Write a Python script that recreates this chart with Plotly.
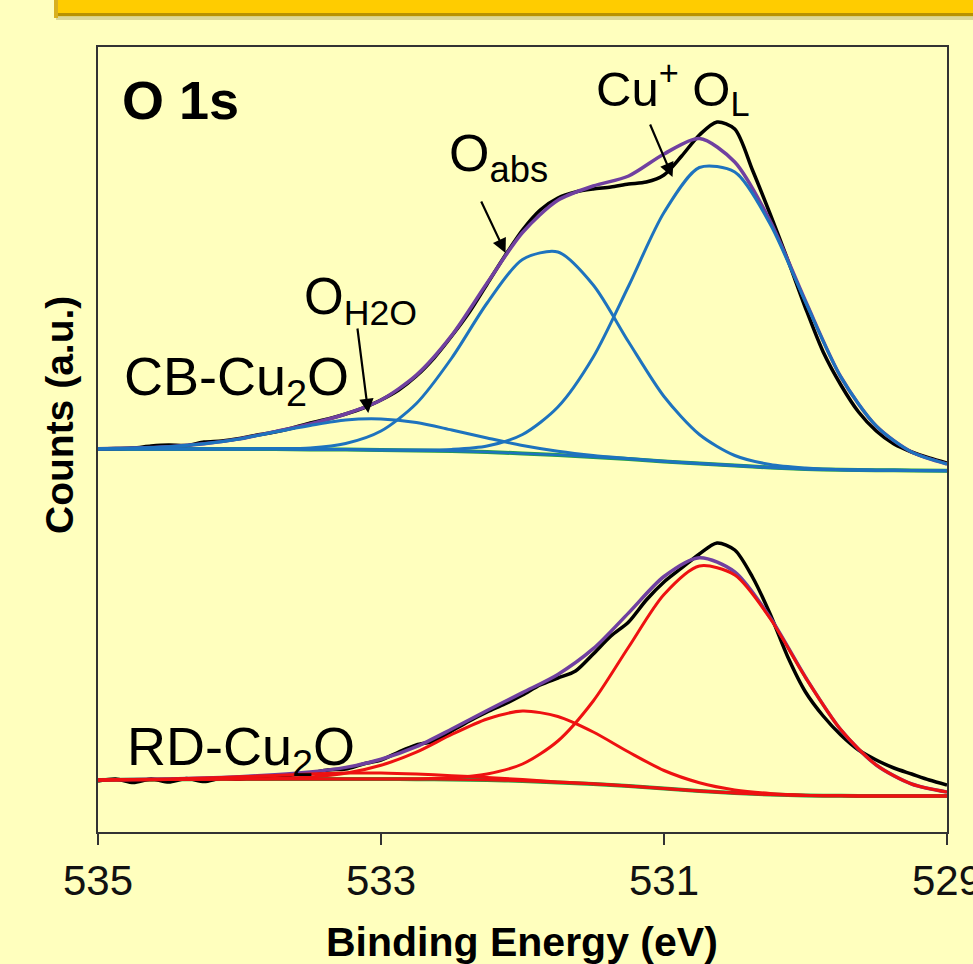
import plotly.graph_objects as go

# ---------------- data ----------------
# Binding energy grid of the fitted curves (eV)
energy = [535.0, 534.75, 534.5, 534.25, 534.0, 533.75, 533.5, 533.25, 533.0,
          532.75, 532.5, 532.25, 532.0, 531.75, 531.5, 531.25, 531.0,
          530.75, 530.5, 530.25, 530.0, 529.75, 529.5, 529.25, 529.0]

# Binding energy grid of the raw spectra (eV)
energy_raw = [535.0, 534.875, 534.75, 534.625, 534.5, 534.375, 534.25, 534.125,
              534.0, 533.875, 533.75, 533.625, 533.5, 533.375, 533.25, 533.125,
              533.0, 532.875, 532.75, 532.625, 532.5, 532.375, 532.25, 532.125,
              532.0, 531.875, 531.75, 531.625, 531.5, 531.375, 531.25, 531.125,
              531.0, 530.875, 530.75, 530.625, 530.5, 530.375, 530.25, 530.125,
              530.0, 529.875, 529.75, 529.625, 529.5, 529.375, 529.25, 529.125,
              529.0]

# ---- CB-Cu2O (upper spectrum), counts in a.u. ----
cb_raw = [383, 383.5, 384, 386, 387, 386.5, 390, 391, 393.5, 397, 400, 404, 409,
          413, 418, 424, 432, 442, 456, 474, 496, 520, 548, 576, 602, 622, 634,
          640, 643, 645, 648, 650, 657, 676, 697, 710, 703, 662, 618, 572, 524,
          480, 447, 420, 401, 388, 380, 374, 369]
cb_background = [383, 383, 383, 383, 383, 383, 382.5, 382.5, 382, 381.5, 381, 380,
                 378.5, 377, 375, 373, 370.5, 368.5, 366.5, 364.5, 363, 362.3,
                 361.8, 361.5, 361.3]
cb_lattice_O = [383, 383, 383, 383, 383, 383, 382.5, 382.5, 382, 381.9, 382.6, 386,
                397.5, 425, 475, 546, 619.5, 664.5, 660, 608, 530, 455,
                406, 380, 368]
cb_adsorbed_O = [383, 383, 383, 383, 383.1, 383.4, 384.1, 388.5, 401, 428.5, 474,
                 529, 572.5, 580, 547, 490, 435.5, 397.5, 376.5, 367.5, 364,
                 362.3, 361.8, 361.5, 361.3]
cb_water_O = [383.3, 383.9, 385.3, 388.2, 393, 400, 406.5, 412, 413, 409.5, 402,
              394, 386.5, 380.8, 376.6, 373.6, 370.7, 368.5, 366.5, 364.5, 363,
              362.3, 361.8, 361.5, 361.3]
cb_envelope = [383.3, 383.9, 385.3, 388.2, 393.1, 400.4, 408.1, 418, 432, 456.9,
               496.6, 549, 599.5, 631.8, 646, 656, 678, 693.5, 670, 611, 531,
               455, 406, 380, 368]

# ---- RD-Cu2O (lower spectrum), counts in a.u. ----
rd_raw = [51, 53, 49.5, 53, 50, 53.5, 50.5, 54, 53, 55, 56, 57, 59, 62, 63, 68,
          72, 80, 87, 91, 101, 111, 120, 128, 137, 147, 154, 161, 178, 196, 210,
          232, 250, 264, 278, 289, 282, 255, 218, 175, 140, 116, 97, 82, 72, 64,
          58, 52, 47]
rd_background = [52, 52.2, 52.5, 52.8, 53, 53, 53, 53, 53, 52.8, 52.5, 52, 51,
                 49.5, 48, 46, 43.5, 41, 39, 37.5, 36.5, 36.2, 36, 36, 36]
rd_lattice_O = [52, 52.2, 52.5, 52.8, 53, 53, 53, 53, 53, 53.2, 54.2, 58, 68, 91,
                131, 185, 237.5, 266, 257, 213.5, 154.5, 102.2, 67, 48, 40]
rd_adsorbed_O = [52, 52.2, 52.5, 52.8, 53.1, 53.6, 55, 58.7, 66.7, 79.8, 97.5,
                 113, 121, 115.5, 100, 80, 61.5, 49.3, 42.1, 38.5, 36.8, 36.2,
                 36, 36, 36]
rd_water_O = [52.1, 52.4, 53, 54, 55.2, 56.6, 57.9, 58.9, 59, 58, 56.3, 54.5,
              52.4, 50.1, 48.3, 46.1, 43.5, 41, 39, 37.5, 36.5, 36.2, 36, 36, 36]
rd_envelope = [52.1, 52.4, 53, 54, 55.3, 57.2, 59.9, 64.6, 72.7, 85.4, 103,
               121.5, 139.4, 157.6, 183.3, 219.1, 255.5, 274.3, 260.1, 214.5,
               154.8, 102.2, 67, 48, 40]

x_ticks = [535, 533, 531, 529]

# ---------------- style ----------------
BG = "#FFFFBE"
FRAME = "#333333"
C_RAW = "#000000"
C_ENV = "#7040A0"
C_BLUE = "#1E73BE"
C_RED = "#EE1111"
C_GREEN = "#22A044"
FONT = "Liberation Sans, Arial, sans-serif"

W, H = 973, 964
L, R, T, B = 98, 947, 47, 832   # plot area in pixels


def px(x):
    return (x - L) / (R - L)


def py(y):
    return (B - y) / (B - T)


fig = go.Figure()


def line(x, y, color, width):
    fig.add_trace(go.Scatter(x=x, y=y, mode="lines",
                             line=dict(color=color, width=width, shape="spline",
                                       smoothing=0.8),
                             hoverinfo="skip"))


# upper spectrum
line(energy, cb_background, C_GREEN, 4)
line(energy, cb_background, C_BLUE, 2.5)
line(energy_raw, cb_raw, C_RAW, 3.5)
line(energy, cb_envelope, C_ENV, 3.5)
line(energy, cb_water_O, C_BLUE, 3)
line(energy, cb_adsorbed_O, C_BLUE, 3)
line(energy, cb_lattice_O, C_BLUE, 3)

# lower spectrum
line(energy, rd_background, C_GREEN, 4)
line(energy_raw, rd_raw, C_RAW, 3.5)
line(energy, rd_envelope, C_ENV, 3.5)
line(energy, rd_water_O, C_RED, 3)
line(energy, rd_adsorbed_O, C_RED, 3)
line(energy, rd_lattice_O, C_RED, 3)
line(energy, rd_background, C_RED, 2.5)

annotations = []


def label(text, x, y, size, bold=False):
    annotations.append(dict(
        text=f"<b>{text}</b>" if bold else text, xref="paper", yref="paper",
        x=px(x), y=py(y), xanchor="left", yanchor="middle", showarrow=False,
        font=dict(family=FONT, size=size, color="#000000")))


label("O 1s", 120, 100, 54, bold=True)
label("CB-Cu<sub>2</sub>O", 122, 380, 54)
label("RD-Cu<sub>2</sub>O", 125, 750, 54)
label("O<sub>H2O</sub>", 302, 300, 51)
label("O<sub>abs</sub>", 447, 157, 52)
label("Cu<sup>+</sup> O<sub>L</sub>", 594, 88, 49)


def arrow(x, y, ax, ay):
    annotations.append(dict(
        x=x, y=y, xref="x", yref="y", ax=ax, ay=ay, axref="pixel", ayref="pixel",
        text="", showarrow=True, arrowhead=2, arrowsize=1.3, arrowwidth=2.2,
        arrowcolor="#000000", standoff=0, startstandoff=0))


arrow(533.09, 419, -11, -86)
arrow(532.12, 579, -25, -53)
arrow(530.94, 655, -23, -54)

# axis titles
annotations.append(dict(
    text="<b>Binding Energy (eV)</b>", xref="paper", yref="paper",
    x=px(522), y=py(942), xanchor="center", yanchor="middle", showarrow=False,
    font=dict(family=FONT, size=41, color="#000000")))
annotations.append(dict(
    text="<b>Counts (a.u.)</b>", xref="paper", yref="paper",
    x=px(59), y=py(415), xanchor="center", yanchor="middle", showarrow=False,
    textangle=-90, font=dict(family=FONT, size=39, color="#000000")))

# decorative header band
shapes = [
    dict(type="rect", xref="paper", yref="paper", x0=px(56), x1=px(990),
         y0=py(0), y1=py(13), fillcolor="#FFCC00", line=dict(width=0), layer="above"),
    dict(type="rect", xref="paper", yref="paper", x0=px(56), x1=px(990),
         y0=py(13), y1=py(16.5), fillcolor="#B89200", line=dict(width=0), layer="above"),
    dict(type="rect", xref="paper", yref="paper", x0=px(56), x1=px(990),
         y0=py(16.5), y1=py(20), fillcolor="#DCD898", line=dict(width=0), layer="above"),
    dict(type="rect", xref="paper", yref="paper", x0=px(54), x1=px(58),
         y0=py(0), y1=py(18), fillcolor="#D8B020", line=dict(width=0), layer="above"),
]

fig.update_layout(
    width=W, height=H,
    margin=dict(l=L, r=W - R, t=T, b=H - B, autoexpand=False),
    paper_bgcolor=BG, plot_bgcolor=BG,
    showlegend=False,
    annotations=annotations,
    shapes=shapes,
    xaxis=dict(range=[535, 529], tickvals=x_ticks, ticktext=[str(t) for t in x_ticks],
               ticks="outside", ticklen=11, tickwidth=2, tickcolor=FRAME,
               showline=True, linewidth=2, linecolor=FRAME, mirror=True,
               showgrid=False, zeroline=False, ticklabelstandoff=0,
               ticklabeloverflow="allow", automargin=False,
               tickfont=dict(family=FONT, size=42, color="#111111")),
    yaxis=dict(range=[0, 785], showticklabels=False, ticks="",
               showline=True, linewidth=2, linecolor=FRAME, mirror=True,
               showgrid=False, zeroline=False, automargin=False),
)

fig.write_html("out.html")
